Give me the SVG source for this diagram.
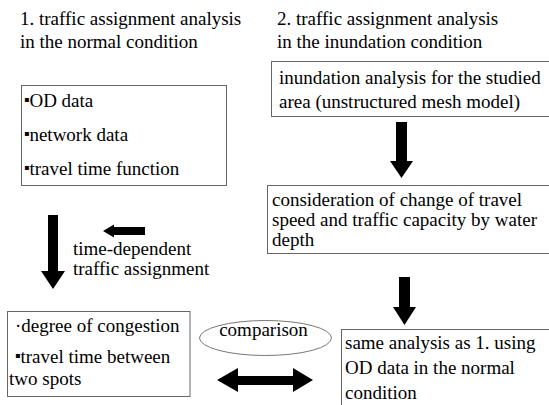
<svg xmlns="http://www.w3.org/2000/svg" width="549" height="405" viewBox="0 0 549 405">
<style>
.box{fill:#fff;stroke:#666;stroke-width:1}
.arr{fill:#000;stroke:none}
</style>
<rect width="549" height="405" fill="#fff"/>
<g font-family="Liberation Serif, Times New Roman, DejaVu Serif, serif" font-size="19" fill="#000">
<g id="title1">
<text x="20" y="25">1. traffic assignment analysis</text>
<text x="20" y="48">in the normal condition</text>
</g>
<g id="title2">
<text x="277" y="25">2. traffic assignment analysis</text>
<text x="277" y="48">in the inundation condition</text>
</g>
<g id="inputs">
<rect class="box" x="21.5" y="85.5" width="205" height="100"/>
<text x="24" y="107"><tspan font-family="DejaVu Sans, sans-serif" font-size="8" dy="-5">▪</tspan><tspan dy="5">OD data</tspan></text>
<text x="24" y="141"><tspan font-family="DejaVu Sans, sans-serif" font-size="8" dy="-5">▪</tspan><tspan dy="5">network data</tspan></text>
<text x="24" y="175"><tspan font-family="DejaVu Sans, sans-serif" font-size="8" dy="-5">▪</tspan><tspan dy="5">travel time function</tspan></text>
</g>
<g id="inundation">
<rect class="box" x="271.5" y="61.5" width="285" height="55"/>
<text x="279" y="84">inundation analysis for the studied</text>
<text x="279" y="108">area (unstructured mesh model)</text>
</g>
<g id="consideration">
<rect class="box" x="267.5" y="185.5" width="290" height="68"/>
<text x="272" y="206">consideration of change of travel</text>
<text x="272" y="226">speed and traffic capacity by water</text>
<text x="272" y="246">depth</text>
</g>
<g id="timedep">
<text x="73" y="255">time-dependent</text>
<text x="73" y="275">traffic assignment</text>
</g>
<g id="results">
<rect class="box" x="7.5" y="311.5" width="182.5" height="85"/>
<text x="15" y="332">·degree of congestion</text>
<text x="15" y="363"><tspan font-family="DejaVu Sans, sans-serif" font-size="8" dy="-5">▪</tspan><tspan dy="5">travel time between</tspan></text>
<text x="9" y="385">two spots</text>
</g>
<g id="comparison">
<ellipse cx="265.5" cy="338" rx="66" ry="17.5" fill="#fff" stroke="#777" stroke-width="1"/>
<text x="263.5" y="336" text-anchor="middle">comparison</text>
</g>
<g id="same">
<rect class="box" x="341.5" y="329.5" width="215" height="90"/>
<text x="345" y="349">same analysis as 1. using</text>
<text x="345" y="374">OD data in the normal</text>
<text x="345" y="399">condition</text>
</g>
</g>
<g id="connectors">
<path class="arr" d="M48,215 H58 V271 H65 L53,289 L41,271 H48 Z"/>
<path class="arr" d="M145,227 V235 H114 V237.5 L103,231 L114,224.5 V227 Z"/>
<path class="arr" d="M396,122 H407 V161 H413 L401.5,178 L390,161 H396 Z"/>
<path class="arr" d="M399,277 H410 V307 H416 L404.5,325 L393,307 H399 Z"/>
<path class="arr" d="M217,380 L238,368 V376 H293 V368 L313,380 L293,392 V385 H238 V392 Z"/>
</g>
</svg>
